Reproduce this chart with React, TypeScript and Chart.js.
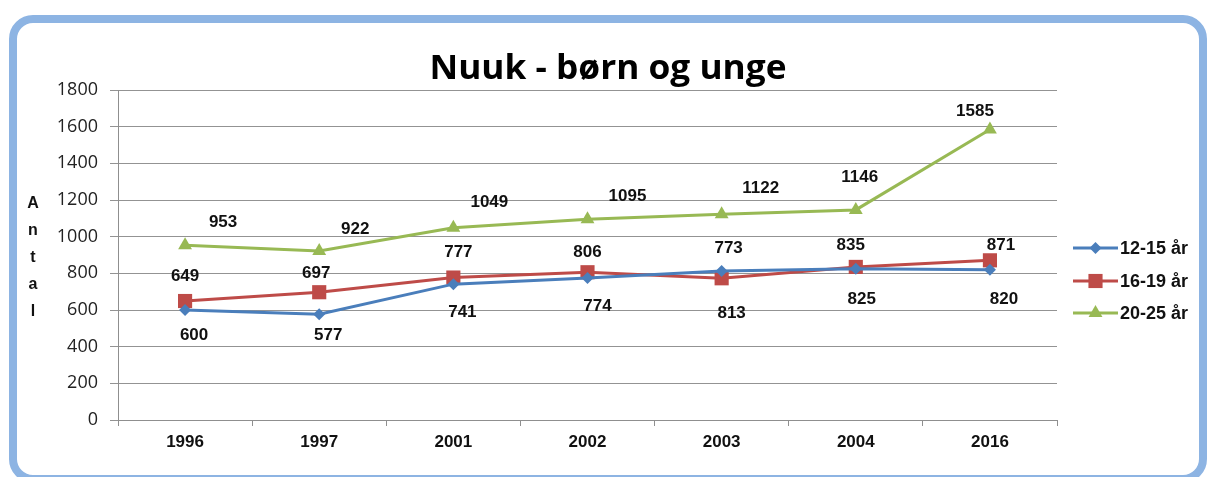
import React, { useEffect, useRef } from 'react';
import { Chart, registerables } from 'chart.js';

Chart.register(...registerables);

const categories = ['1996', '1997', '2001', '2002', '2003', '2004', '2016'];
const series1215 = [600, 577, 741, 774, 813, 825, 820];
const series1619 = [649, 697, 777, 806, 773, 835, 871];
const series2025 = [953, 922, 1049, 1095, 1122, 1146, 1585];
const seriesNames = ['12-15 år', '16-19 år', '20-25 år'];
const yMin = 0;
const yMax = 1800;
const yStep = 200;
const chartTitle = 'Nuuk - børn og unge';
const yAxisTitle = 'Antal';

// label placement (pixel offsets from each point), styling config
const labelOffsets = [
  [[9, 25], [9, 21], [9, 28], [10, 28], [10, 42], [6, 31], [14, 30]],
  [[0, -25], [-3, -19], [5, -25], [0, -20], [7, -30], [-5, -22], [11, -15]],
  [[38, -23], [36, -22], [36, -25], [40, -23], [39, -26], [4, -33], [-15, -18]],
];

const COLORS = ['#4a7ebb', '#be4b48', '#98b954'];
const STYLES = ['rectRot', 'rect', 'triangle'];
const RADII = [6, 10, 8];

function drawMarker(ctx: CanvasRenderingContext2D, style: string, x: number, y: number, r: number, color: string) {
  ctx.save();
  ctx.fillStyle = color;
  ctx.beginPath();
  if (style === 'rectRot') {
    ctx.moveTo(x, y - r);
    ctx.lineTo(x + r, y);
    ctx.lineTo(x, y + r);
    ctx.lineTo(x - r, y);
  } else if (style === 'rect') {
    const s = r * Math.SQRT1_2;
    ctx.rect(x - s, y - s, 2 * s, 2 * s);
  } else {
    ctx.moveTo(x, y - r);
    ctx.lineTo(x + r * Math.sin((2 * Math.PI) / 3), y - r * Math.cos((2 * Math.PI) / 3));
    ctx.lineTo(x + r * Math.sin((4 * Math.PI) / 3), y - r * Math.cos((4 * Math.PI) / 3));
  }
  ctx.closePath();
  ctx.fill();
  ctx.restore();
}

const customPlugin = {
  id: 'customDecor',
  afterDatasetsDraw(chart: any) {
    const ctx: CanvasRenderingContext2D = chart.ctx;
    ctx.save();
    ctx.font = 'bold 17px "Liberation Sans", Arial, sans-serif';
    ctx.fillStyle = '#111';
    ctx.textAlign = 'center';
    ctx.textBaseline = 'middle';
    chart.data.datasets.forEach((ds: any, di: number) => {
      const meta = chart.getDatasetMeta(di);
      meta.data.forEach((pt: any, i: number) => {
        const [dx, dy] = labelOffsets[di][i];
        ctx.fillText(String(ds.data[i]), pt.x + dx, pt.y + dy);
      });
    });
    ctx.restore();
  },
  afterDraw(chart: any) {
    const ctx: CanvasRenderingContext2D = chart.ctx;
    // Title
    ctx.save();
    ctx.font = 'bold 34px "Open Sans", Lato, sans-serif';
    ctx.fillStyle = '#000';
    ctx.textBaseline = 'alphabetic';
    ctx.textAlign = 'center';
    const w = ctx.measureText(chartTitle).width;
    const sx = 357 / w;
    ctx.translate(608, 79);
    ctx.scale(sx, 1);
    ctx.fillText(chartTitle, 0, 0);
    ctx.restore();

    // Y axis title, letters stacked
    ctx.save();
    ctx.font = 'bold 16px "Liberation Sans", Arial, sans-serif';
    ctx.fillStyle = '#111';
    ctx.textAlign = 'center';
    ctx.textBaseline = 'alphabetic';
    yAxisTitle.split('').forEach((ch, i) => {
      ctx.fillText(ch, 33, 208 + i * 27);
    });
    ctx.restore();

    // Legend
    ctx.save();
    const lx0 = 1073;
    const lx1 = 1118;
    const ly = [248, 281, 313];
    chart.data.datasets.forEach((ds: any, di: number) => {
      ctx.strokeStyle = COLORS[di];
      ctx.lineWidth = 3;
      ctx.beginPath();
      ctx.moveTo(lx0, ly[di]);
      ctx.lineTo(lx1, ly[di]);
      ctx.stroke();
      drawMarker(ctx, STYLES[di], (lx0 + lx1) / 2, ly[di], RADII[di], COLORS[di]);
      ctx.font = 'bold 18px "Liberation Sans", Arial, sans-serif';
      ctx.fillStyle = '#111';
      ctx.textAlign = 'left';
      ctx.textBaseline = 'middle';
      ctx.fillText(ds.label, lx1 + 2, ly[di] + 1);
    });
    ctx.restore();
  },
};

export default function App() {
  const canvasRef = useRef<HTMLCanvasElement | null>(null);

  useEffect(() => {
    if (!canvasRef.current) return;
    const seriesValues = [series1215, series1619, series2025];
    const chart = new Chart(canvasRef.current, {
      type: 'line',
      data: {
        labels: categories,
        datasets: seriesValues.map((vals, i) => ({
          label: seriesNames[i],
          data: vals,
          borderColor: COLORS[i],
          backgroundColor: COLORS[i],
          borderWidth: 3,
          pointStyle: STYLES[i] as any,
          pointRadius: RADII[i],
          pointBorderWidth: 0,
          pointBackgroundColor: COLORS[i],
          tension: 0,
          fill: false,
        })),
      },
      options: {
        responsive: false,
        animation: false,
        layout: { padding: { left: 0, right: 151, top: 90, bottom: 0 } },
        plugins: {
          legend: { display: false },
          title: { display: false },
          tooltip: { enabled: false },
        },
        scales: {
          x: {
            offset: true,
            grid: {
              offset: true,
              drawOnChartArea: false,
              drawTicks: true,
              tickLength: 6,
              color: '#8f8f8f',
            },
            border: { display: true, color: '#8f8f8f' },
            ticks: {
              padding: 6,
              color: '#111',
              font: { family: '"Liberation Sans", Arial, sans-serif', size: 17, weight: 'bold' },
            },
            afterFit: (scale: any) => {
              scale.height = 57;
            },
          },
          y: {
            min: yMin,
            max: yMax,
            ticks: {
              stepSize: yStep,
              padding: 12,
              color: '#222',
              font: { family: '"Open Sans", Lato, sans-serif', size: 18 },
              callback: (v: any) => String(v),
            },
            grid: {
              color: '#939393',
              tickLength: 8,
            },
            border: { display: true, color: '#8f8f8f' },
            afterFit: (scale: any) => {
              scale.width = 118;
            },
          },
        },
      },
      plugins: [customPlugin],
    });
    return () => chart.destroy();
  }, []);

  return (
    <div style={{ position: 'fixed', left: 0, top: 0, width: 1208, height: 477, background: '#fff', overflow: 'hidden' }}>
      <div
        style={{
          position: 'absolute',
          left: 9,
          top: 15,
          width: 1198,
          height: 468,
          boxSizing: 'border-box',
          border: '8px solid #8db4e3',
          borderRadius: 24,
          background: '#fff',
        }}
      />
      <canvas
        ref={canvasRef}
        width={1208}
        height={477}
        style={{ position: 'absolute', left: 0, top: 0, width: 1208, height: 477 }}
      />
    </div>
  );
}
